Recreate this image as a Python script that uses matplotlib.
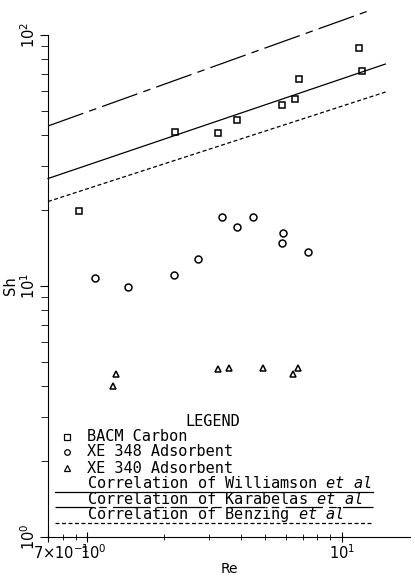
import numpy as np
import matplotlib
matplotlib.use("Agg")
import matplotlib.pyplot as plt
import matplotlib.transforms as mtrans
from matplotlib.ticker import FixedLocator, NullFormatter

plt.rcParams['mathtext.fontset'] = 'custom'
plt.rcParams['mathtext.it'] = 'DejaVu Sans Mono:italic'
plt.rcParams['mathtext.rm'] = 'DejaVu Sans'

# BACM Carbon (squares)
bacm_re = [0.93, 2.20, 3.27, 3.86, 5.83, 6.52, 6.77, 11.7, 12.0]
bacm_sh = [19.9, 40.9, 40.8, 45.8, 52.5, 55.6, 66.7, 88.7, 72.0]

# XE 348 Adsorbent (circles)
xe348_re = [1.075, 1.44, 2.18, 2.73, 3.37, 3.88, 4.49, 5.87, 5.80, 7.38]
xe348_sh = [10.8, 9.9, 11.1, 12.8, 18.9, 17.2, 18.9, 16.2, 14.9, 13.7]

# XE 340 Adsorbent (triangles)
xe340_re = [1.30, 1.26, 3.26, 3.61, 4.89, 6.42, 6.70]
xe340_sh = [4.45, 4.0, 4.69, 4.73, 4.70, 4.48, 4.71]

# correlations, end points
will_re = [0.7, 14.8]
will_sh = [26.8, 76.6]
kara_re = [0.7, 12.5]
kara_sh = [43.4, 124.0]
benz_re = [0.7, 15.0]
benz_sh = [21.7, 59.5]

lw = 0.9
kara_dash = (30, 5, 6, 5)
benz_dash = (3.2, 2.0)

fig = plt.figure(figsize=(4.15, 5.77), dpi=100)
ax = fig.add_axes([48 / 415, 40 / 577, 362 / 415, 502 / 577])
ax.set_xscale('log')
ax.set_yscale('log')

ax.plot(will_re, will_sh, color='black', lw=lw, clip_on=False)
ax.plot(kara_re, kara_sh, color='black', lw=lw, dashes=kara_dash, clip_on=False)
ax.plot(benz_re, benz_sh, color='black', lw=lw, dashes=benz_dash, clip_on=False)

ax.plot(bacm_re, bacm_sh, 's', mfc='none', mec='black', ms=5, mew=1.1)
ax.plot(xe348_re, xe348_sh, 'o', mfc='none', mec='black', ms=5, mew=1.1)
ax.plot(xe340_re, xe340_sh, '^', mfc='none', mec='black', ms=4.5, mew=1.1)

ax.set_xlim(0.7, 18.5)
ax.set_ylim(1, 100)

for s in ['top', 'right']:
    ax.spines[s].set_visible(False)

ax.xaxis.set_major_locator(FixedLocator([0.7, 1, 10]))
ax.xaxis.set_minor_locator(FixedLocator([0.8, 0.9, 2, 3, 4, 5, 6, 7, 8, 9]))
ax.set_xticklabels([r'7$\times$10$^{-1}$', r'10$^{0}$', r'10$^{1}$'])
ax.xaxis.set_minor_formatter(NullFormatter())
ax.yaxis.set_major_locator(FixedLocator([1, 10, 100]))
ax.yaxis.set_minor_locator(FixedLocator([2, 3, 4, 5, 6, 7, 8, 9, 20, 30, 40, 50, 60, 70, 80, 90]))
ax.set_yticklabels([r'10$^{0}$', r'10$^{1}$', r'10$^{2}$'], rotation=90, va='center')
ax.yaxis.set_minor_formatter(NullFormatter())
ax.tick_params(axis='x', which='both', direction='inout', labelsize=10.5, pad=1)
ax.tick_params(axis='x', which='major', length=7)
ax.tick_params(axis='x', which='minor', length=5)
ax.tick_params(axis='y', which='both', direction='out', labelsize=10.5, pad=1)
ax.tick_params(axis='y', which='major', length=6)
ax.tick_params(axis='y', which='minor', length=5)

# shift the crowded left x labels like the plotter did
xl = ax.get_xticklabels()
xl[0].set_transform(xl[0].get_transform() + mtrans.ScaledTranslation(13 / 100, 0, fig.dpi_scale_trans))
xl[1].set_transform(xl[1].get_transform() + mtrans.ScaledTranslation(6 / 100, 0, fig.dpi_scale_trans))

ax.set_xlabel('Re', fontsize=10, labelpad=0)
ax.set_ylabel('Sh', fontsize=10.5, labelpad=1)

# legend drawn in axes coordinates
tr = ax.transAxes
mono = 'DejaVu Sans Mono'
fs = 11
ax.text(0.456, 0.230, 'LEGEND', transform=tr, ha='center', va='center', family=mono, fontsize=fs)
rows = [0.200, 0.170, 0.137]
names = ['BACM Carbon', 'XE 348 Adsorbent', 'XE 340 Adsorbent']
marks = ['s', 'o', '^']
for yy, nm, mk in zip(rows, names, marks):
    ax.plot([0.052], [yy], mk, mfc='none', mec='black', ms=4, mew=0.9, transform=tr, clip_on=False)
    ax.text(0.108, yy, nm, transform=tr, ha='left', va='center', family=mono, fontsize=fs)

corr = [('Williamson', 0.107, 0.090, None),
        ('Karabelas', 0.075, 0.060, kara_dash),
        ('Benzing', 0.044, 0.0285, benz_dash)]
for nm, ty, ly, ds in corr:
    ax.text(0.108, ty, 'Correlation of %s $\\it{et}$ $\\it{al}$' % nm, transform=tr,
            ha='left', va='center', family=mono, fontsize=fs)
    if ds is None:
        ax.plot([0.019, 0.898], [ly, ly], color='black', lw=lw, transform=tr)
    else:
        ax.plot([0.019, 0.898], [ly, ly], color='black', lw=lw, dashes=ds, transform=tr)

fig.savefig('out.png', dpi=100)
